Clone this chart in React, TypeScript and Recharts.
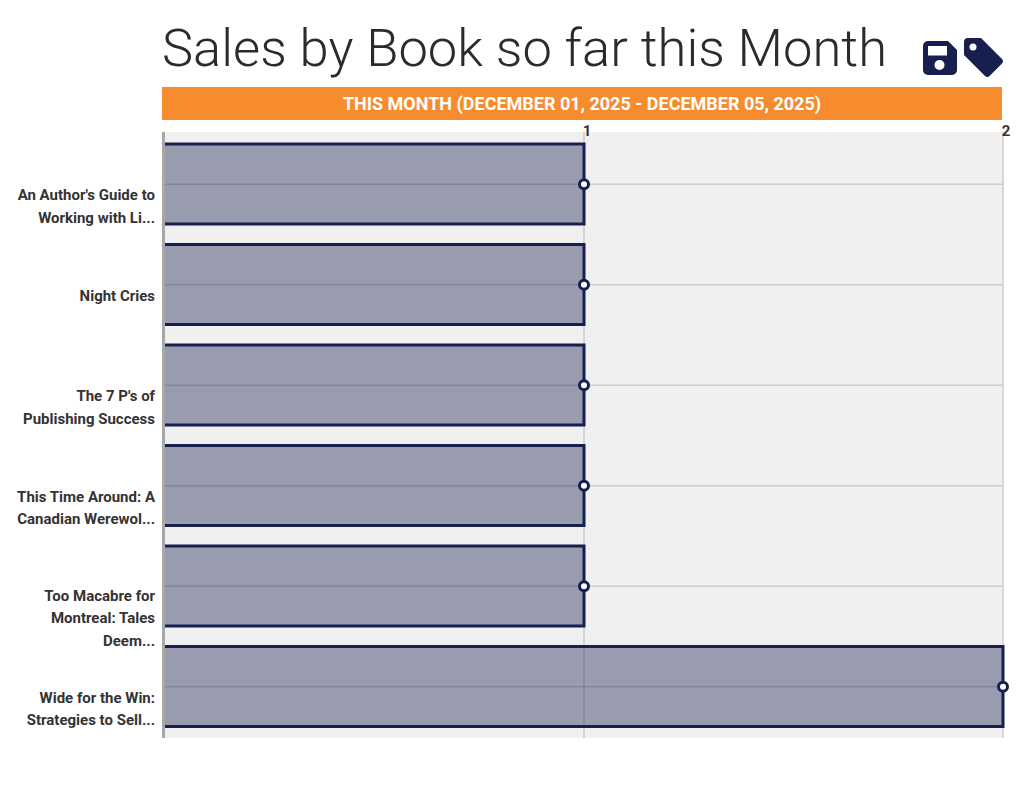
import React from "react";
import { ComposedChart, Bar, Line, XAxis, YAxis, CartesianGrid } from "recharts";

const NAVY = "#161f4e";
const FONT = "Roboto, sans-serif";

const books = [
  "An Author's Guide to Working with Li...",
  "Night Cries",
  "The 7 P's of Publishing Success",
  "This Time Around: A Canadian Werewol...",
  "Too Macabre for Montreal: Tales Deem...",
  "Wide for the Win: Strategies to Sell...",
];
const bookLines = [
  ["An Author's Guide to", "Working with Li..."],
  ["Night Cries"],
  ["The 7 P's of", "Publishing Success"],
  ["This Time Around: A", "Canadian Werewol..."],
  ["Too Macabre for", "Montreal: Tales", "Deem..."],
  ["Wide for the Win:", "Strategies to Sell..."],
];
const sales = [1, 1, 1, 1, 1, 2];
const salesTicks = [1, 2];

const chartData = books.map((name, i) => ({ name, sales: sales[i] }));

function BookTick({ x, y, index }: any) {
  const lines = bookLines[index];
  // three line labels sit a little higher in the original
  const first = lines.length > 2 ? 14.5 : 16;
  return (
    <text x={x - 4} y={y + first} textAnchor="end" fontFamily={FONT} fontSize={15} fontWeight={700} fill="#333">
      {lines.map((line, i) => (
        <tspan key={line} x={x - 4} dy={i === 0 ? 0 : 22.4}>
          {line}
        </tspan>
      ))}
    </text>
  );
}

function SalesTick({ x, y, payload }: any) {
  return (
    <text x={x + 3} y={y + 12} textAnchor="middle" fontFamily={FONT} fontSize={15} fontWeight={700} fill="#333">
      {payload.value}
    </text>
  );
}

// outline on three sides only, the left edge is left to the axis line
function BarShape({ x, y, width, height }: any) {
  return (
    <g>
      <rect x={x} y={y} width={width} height={height} fill={NAVY} fillOpacity={0.4} />
      <path
        d={`M${x},${y}H${x + width}V${y + height}H${x}`}
        fill="none"
        stroke={NAVY}
        strokeWidth={3}
      />
    </g>
  );
}

function SaveIcon() {
  return (
    <svg width={34} height={34} viewBox="0 0 34 34" style={{ position: "absolute", left: 923, top: 41 }}>
      <path
        d="M5 0H25L34 9V29A5 5 0 0 1 29 34H5A5 5 0 0 1 0 29V5A5 5 0 0 1 5 0Z"
        fill={NAVY}
      />
      <rect x={5} y={5} width={19} height={9.5} fill="#fff" />
      <circle cx={16.5} cy={24} r={5} fill="#fff" />
    </svg>
  );
}

function TagIcon() {
  return (
    <svg width={40} height={40} viewBox="0 0 40 40" style={{ position: "absolute", left: 964, top: 38 }}>
      <path
        d="M4 0H17L38 21A3 3 0 0 1 38 25.5L25.5 38A3 3 0 0 1 21 38L0 17V4A4 4 0 0 1 4 0Z"
        fill={NAVY}
      />
      <circle cx={9} cy={9} r={3.5} fill="#fff" />
    </svg>
  );
}

export default function App() {
  return (
    <div style={{ position: "absolute", left: 0, top: 0, width: 1028, height: 794, background: "#fff", fontFamily: FONT }}>
      <ComposedChart
        width={1028}
        height={794}
        layout="vertical"
        data={chartData}
        barSize={80}
        margin={{ top: 124, right: 25, bottom: 56, left: 0 }}
      >
        <CartesianGrid fill="#f0f0f0" fillOpacity={1} stroke="#cccccc" strokeWidth={1.5} syncWithTicks />
        <XAxis
          type="number"
          orientation="top"
          domain={[0, 2]}
          ticks={salesTicks}
          height={8}
          axisLine={false}
          tickLine={false}
          tick={SalesTick}
          interval={0}
        />
        <YAxis
          type="category"
          dataKey="name"
          width={165}
          padding={{ top: 2, bottom: 1 }}
          axisLine={{ stroke: "#a8a8a8", strokeWidth: 3, transform: "translate(-1.5,0)" }}
          tickLine={false}
          tick={BookTick}
          tickMargin={0}
          interval={0}
        />
        <Bar dataKey="sales" shape={BarShape} isAnimationActive={false} />
        <Line
          dataKey="sales"
          stroke="none"
          dot={{ r: 4.5, fill: "#fff", stroke: NAVY, strokeWidth: 3, fillOpacity: 1 }}
          isAnimationActive={false}
        />
      </ComposedChart>
      <div
        style={{
          position: "absolute",
          left: 162,
          top: 16,
          fontSize: 52.5,
          fontWeight: 300,
          lineHeight: "64px",
          color: "#2b2b2b",
          whiteSpace: "nowrap",
        }}
      >
        Sales by Book so far this Month
      </div>
      <SaveIcon />
      <TagIcon />
      <div
        style={{
          position: "absolute",
          left: 162,
          top: 87,
          width: 840,
          height: 33,
          lineHeight: "33px",
          background: "#f78c2e",
          color: "#fff",
          fontSize: 18,
          fontWeight: 700,
          textAlign: "center",
        }}
      >
        THIS MONTH (DECEMBER 01, 2025 - DECEMBER 05, 2025)
      </div>
    </div>
  );
}
